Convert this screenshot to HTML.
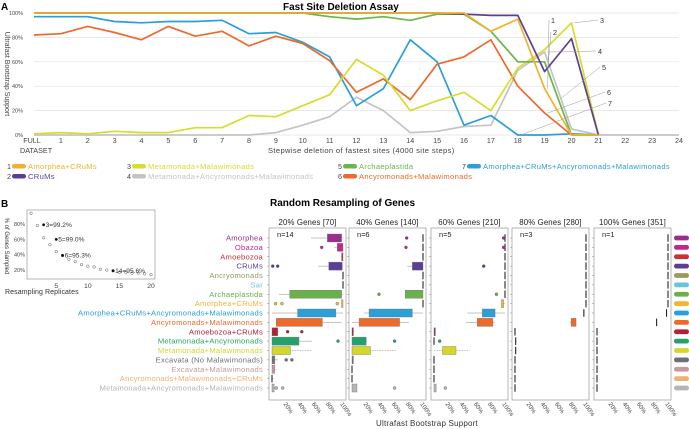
<!DOCTYPE html>
<html><head><meta charset="utf-8">
<style>
body{margin:0;background:#fff;}
svg{display:block;font-family:"Liberation Sans",sans-serif;}
</style></head>
<body>
<svg id="fig" width="689" height="429" viewBox="0 0 689 429" xmlns="http://www.w3.org/2000/svg">
<text x="1" y="10" font-size="10" font-weight="bold">A</text>
<text x="283" y="10" font-size="10" font-weight="bold">Fast Site Deletion Assay</text>
<g id="gA"></g>
<text x="1" y="207" font-size="10" font-weight="bold">B</text>
<text x="270" y="206" font-size="10" font-weight="bold">Random Resampling of Genes</text>
<g id="gI"></g>
<g id="gB"></g>
<text x="427" y="426" font-size="8" letter-spacing="0.2" text-anchor="middle" fill="#333">Ultrafast Bootstrap Support</text>
</svg>
<script>
const NS="http://www.w3.org/2000/svg";
function mk(tag,attrs,parent,txt){const e=document.createElementNS(NS,tag);for(const k in attrs)e.setAttribute(k,attrs[k]);if(txt!==undefined)e.textContent=txt;parent.appendChild(e);return e;}

// ---------- Panel A data ----------
const steps=["FULL",1,2,3,4,5,6,7,8,9,10,11,12,13,14,15,16,17,18,19,20,21,22,23,24];
const yTicks=[0,20,40,60,80,100];
const seriesNames=["Amorphea+CRuMs","CRuMs","Metamonada+Malawimonads","Metamonada+Ancyromonads+Malawimonads","Archaeplastida","Ancyromonads+Malawimonads","Amorphea+CRuMs+Ancyromonads+Malawimonads"];
const seriesColors=["#f0b22a","#5b3f97","#d8dc2c","#c4c4c4","#6cb54a","#eb6a2c","#2a9fd8"];
const s1=[100,100,100,100,100,100,100,100,100,100,100,100,100,100,100,100,100,85,95,38,0,0];
const s2=[100,100,100,100,100,100,100,100,100,100,100,100,100,100,100,100,99,98,98,52,79,0];
const s3=[1,2,1,3,2,2,6,6,16,15,24,33,62,49,20,28,35,20,55,70,92,0];
const s4=[0,0,0,0,0,0,0,0,0,2,8,15,31,20,2,3,7,8,53,68,5,0,0,0,0];
const s5=[100,100,100,100,100,100,100,100,100,100,100,97,95,97,94,99,99,85,60,60,0,0];
const s6=[82,83,89,84,78,89,81,85,73,81,75,61,35,46,29,58,64,78,40,18,0,0];
const s7=[97,97,97,93,92,93,93,94,83,84,76,64,24,38,78,60,8,16,0,0,1,0];
const drawOrder=[3,6,5,2,4,1,0];

const gA=document.getElementById('gA');
const ax0=34,ax1=679,ay0=135,ay1=13;
const xA=i=>ax0+i*(ax1-ax0)/24;
const yA=v=>ay0-v*(ay0-ay1)/100;
yTicks.forEach(t=>{
  const l=mk('line',{x1:ax0,x2:ax1,y1:yA(t),y2:yA(t),stroke:'#e2e2e2','stroke-width':0.7},gA);
  
  
  const tx=mk('text',{x:23,y:yA(t)+2,'font-size':5.5,'text-anchor':'end',fill:'#444'},gA,t+'%');
  
  
});
steps.forEach((s,i)=>{
  const tx=mk('text',{x:xA(i)+(i==0?-2:0),y:143,'font-size':7.2,'text-anchor':'middle',fill:'#444'},gA,s==="FULL"?"FULL":s);
  
  
});
{const t=mk('text',{x:20,y:153,'font-size':7.2,fill:'#444'},gA,'DATASET');}
{const t=mk('text',{x:268,y:153,'font-size':7.6,'letter-spacing':0.35,fill:'#444'},gA,'Stepwise deletion of fastest sites (4000 site steps)');}
{const t=mk('text',{x:0,y:0,'font-size':7,fill:'#444','text-anchor':'middle',transform:'translate(5,74) rotate(90)'},gA,'Ultrafast Bootstrap Support');}
const allS=[s1,s2,s3,s4,s5,s6,s7];
drawOrder.forEach(k=>{
  const d=allS[k].map((v,i)=>(i?'L':'M')+xA(i).toFixed(1)+','+yA(v).toFixed(1)).join('');
  const p=mk('path',{d:d,fill:'none',stroke:seriesColors[k],'stroke-width':1.7,'stroke-linejoin':'round'},gA);
  
  
});
const callLbl=[[551,23],[553,35],[600,23],[598,54],[602,70],[607,95],[608,106]];
const callPt=[[19,38],[19,52],[20,92],[19,68],[19.5,30],[19,18],[18,0]];
callLbl.forEach((c,k)=>{
  const px=xA(callPt[k][0])+3,py=yA(callPt[k][1]);
  const l=mk('line',{x1:px,y1:py,x2:c[0]-2,y2:c[1]-3,stroke:'#999','stroke-width':0.5},gA);
  
  
  const t=mk('text',{x:c[0],y:c[1],'font-size':7.2,fill:'#333'},gA,String(k+1));
  
  
});
const legPos=[[7,169],[7,179],[127,169],[127,179],[338,169],[338,179],[462,169]];
legPos.forEach((p,k)=>{
  const n=mk('text',{x:p[0],y:p[1],'font-size':7.2,fill:'#444'},gA,String(k+1));
  
  
  const r=mk('rect',{x:p[0]+5,y:p[1]-5,width:14,height:4.5,rx:2.2,fill:seriesColors[k]},gA);
  
  
  const t=mk('text',{x:p[0]+21,y:p[1],'font-size':7.6,'letter-spacing':0.3,fill:seriesColors[k]},gA,seriesNames[k]);
  
  
});

// ---------- Inset ----------
const repX=[1,2,3,4,5,6,7,8,9,10,11,12,13,14,15,16,17,18,19,20];
const repPct=[94,78,62,53,44,39,34,31,27,25,24,21,20,19,17,17,16,16,15,14];
const bestRep=[3,5,6,14];
const bestPct=[79,60,39,19];
const bestLbl=["3=99.2%","5=99.0%","6=95.3%","14=95.6%"];
const inTicksX=[5,10,15,20];
const inTicksY=[20,40,60,80];
const gI=document.getElementById('gI');
const ix=v=>31+(v-1)*(151-31)/19;
const iy=v=>224+(80-v)*0.767;
{const r=mk('rect',{x:27,y:210,width:128,height:69,fill:'none',stroke:'#888','stroke-width':0.6},gI);}
inTicksY.forEach(t=>{const e=mk('text',{x:25,y:iy(t)+2,'font-size':5.5,'text-anchor':'end',fill:'#444'},gI,t+'%');});
inTicksX.forEach(t=>{const e=mk('text',{x:ix(t),y:288,'font-size':6.8,'text-anchor':'middle',fill:'#444'},gI,String(t));});
{const e=mk('text',{x:5,y:294,'font-size':7,'letter-spacing':0.1,fill:'#333'},gI,'Resampling Replicates');}
{const e=mk('text',{x:0,y:0,'font-size':6,fill:'#333','text-anchor':'middle',transform:'translate(5,246) rotate(90)'},gI,'% of Genes Sampled');}
repX.forEach((r,i)=>{const c=mk('circle',{cx:ix(r),cy:iy(repPct[i]),r:1.3,fill:'#fff',stroke:'#555','stroke-width':0.5},gI);});
bestRep.forEach((r,i)=>{
  const c=mk('circle',{cx:ix(r),cy:iy(bestPct[i]),r:1.4,fill:'#111'},gI);
  const t=mk('text',{x:ix(r)+2,y:iy(bestPct[i])+2,'font-size':6.6,fill:'#333'},gI,bestLbl[i]);
});

// ---------- Boxplots ----------
const rowNames=["Amorphea","Obazoa","Amoebozoa","CRuMs","Ancryomonads","Sar","Archaeplastida","Amorphea+CRuMs","Amorphea+CRuMs+Ancyromonads+Malawimonads","Ancyromonads+Malawimonads","Amoebozoa+CRuMs","Metamonada+Ancyromonads","Metamonada+Malawimonads","Excavata (No Malawimonads)","Excavata+Malawimonads","Ancyromonads+Malawimonads+CRuMs","Metamonada+Ancyromonads+Malawimonads"];
const rowColors=["#9b2d8e","#c0288f","#c8303a","#5b3f97","#9a9a5a","#6cc5d4","#6ab04c","#f2b636","#2a9fd8","#eb6a2c","#b0203a","#23a36a","#d6d62a","#6f6f7a","#c69aa0","#f0b070","#b5b5b5"];
const panelTitles=["20% Genes [70]","40% Genes [140]","60% Genes [210]","80% Genes [280]","100% Genes [351]"];
const panelN=["n=14","n=6","n=5","n=3","n=1"];
const boxTicks=["20%","40%","60%","80%","100%"];
const p1Lo=[55,88,97,65,100,100,10,97,0,5,0,0,0,0,0,0,0];
const p1Q1=[78,92,98,80,100,100,25,98,36,6,0,0,0,0,0,0,0];
const p1Q3=[98,100,100,99,100,100,98,100,90,71,8,38,26,4,4,1,3];
const p1Hi=[100,100,100,100,100,100,100,100,100,98,10,56,55,8,5,2,4];
const p1Out=[[],[70],[],[1,8],[],[],[],[5,14,92],[],[],[22,42],[93],[],[20,28],[],[],[6,15]];
const p2Lo=[100,100,100,78,100,100,100,100,17,0,0,0,0,0,0,0,0];
const p2Q1=[100,100,100,85,100,100,75,100,24,10,0,0,0,0,0,0,0];
const p2Q3=[100,100,100,100,100,100,100,100,85,67,2,20,26,2,0,0,7];
const p2Hi=[100,100,100,100,100,100,100,100,100,80,3,20,63,2,0,0,7];
const p2Out=[[77],[76],[],[],[],[],[38],[],[],[],[],[60],[],[],[],[],[60]];
const p3Lo=[100,100,100,100,100,100,100,95,47,45,0,0,0,0,0,0,0];
const p3Q1=[100,100,100,100,100,100,100,95,68,61,0,0,12,0,0,0,0];
const p3Q3=[100,100,100,100,100,100,100,98,86,83,2,1,31,1,0,0,3];
const p3Hi=[100,100,100,100,100,100,100,100,100,86,2,1,50,1,0,0,3];
const p3Out=[[98],[98],[],[70],[],[],[88],[],[],[],[],[8],[],[],[],[],[16]];
const p4Lo=[100,100,100,100,100,100,100,100,96,77,0,0,0,0,0,0,0];
const p4Q1=[100,100,100,100,100,100,100,100,97,79,0,1,1,0,0,0,0];
const p4Q3=[100,100,100,100,100,100,100,100,98,86,0,2,2,0,0,0,1];
const p4Hi=[100,100,100,100,100,100,100,100,98,86,0,2,2,0,0,0,1];
const p4Out=[[],[],[],[],[],[],[],[],[],[],[],[],[],[],[],[],[]];
const p5Val=[100,100,100,100,100,100,100,100,98,84,0,0,0,0,0,0,0];
const panelLo=[p1Lo,p2Lo,p3Lo,p4Lo,p5Val];
const panelQ1=[p1Q1,p2Q1,p3Q1,p4Q1,p5Val];
const panelQ3=[p1Q3,p2Q3,p3Q3,p4Q3,p5Val];
const panelHi=[p1Hi,p2Hi,p3Hi,p4Hi,p5Val];
const panelOut=[p1Out,p2Out,p3Out,p4Out,p4Out];

const gB=document.getElementById('gB');
const pL=[269,349,431,512,594],pW=77,pTop=228,pBot=400;
const ry=i=>238+i*9.375;
rowNames.forEach((n,i)=>{
  const t=mk('text',{x:263,y:ry(i)+2.6,'font-size':7.6,'letter-spacing':0.25,'text-anchor':'end',fill:rowColors[i]},gB,n);
  
  
  const s=mk('rect',{x:674,y:ry(i)-2.4,width:15,height:4.8,rx:2.4,fill:rowColors[i]},gB);
  
  
});
pL.forEach((L,p)=>{
  const xs=v=>L+3+v*(pW-6)/100;
  const fr=mk('rect',{x:L,y:pTop,width:pW,height:pBot-pTop,fill:'none',stroke:'#888','stroke-width':0.6},gB);
  
  
  const tt=mk('text',{x:L+pW/2,y:225,'font-size':7.8,'letter-spacing':0.15,'text-anchor':'middle',fill:'#222'},gB,panelTitles[p]);
  
  
  const nn=mk('text',{x:L+8,y:237,'font-size':7.4,fill:'#222'},gB,panelN[p]);
  
  
  rowNames.forEach((n,i)=>{const tk=mk('line',{x1:L-2,x2:L,y1:ry(i),y2:ry(i),stroke:'#888','stroke-width':0.5},gB);});
  boxTicks.forEach((t,k)=>{
    const v=(k+1)*20;
    const e=mk('text',{x:0,y:0,'font-size':6,fill:'#444',transform:'translate('+(xs(v)-3)+',404) rotate(55)'},gB,t);
    
    
  });
  rowNames.forEach((n,i)=>{
    const lo=panelLo[p][i],q1=panelQ1[p][i],q3=panelQ3[p][i],hi=panelHi[p][i],y=ry(i);
    const col=rowColors[i];
    if(hi>lo){const w=mk('line',{x1:xs(lo),x2:xs(hi),y1:y,y2:y,stroke:'#888','stroke-width':0.5,'stroke-dasharray':i==12?'1.5,1':'none'},gB);}
    if(q3-q1>=1.5){
      const b=mk('rect',{x:xs(q1),y:y-4,width:xs(q3)-xs(q1),height:8,fill:col,stroke:'#777','stroke-width':0.4},gB);
      
      
    }else{
      const b=mk('line',{x1:xs(q1),x2:xs(q1),y1:y-3.8,y2:y+3.8,stroke:'#111','stroke-width':1},gB);
      
      
    }
    panelOut[p][i].forEach(o=>{const c=mk('circle',{cx:xs(o),cy:y,r:1.5,fill:col,stroke:'#444','stroke-width':0.3},gB);});
  });
});
</script>
</body></html>
